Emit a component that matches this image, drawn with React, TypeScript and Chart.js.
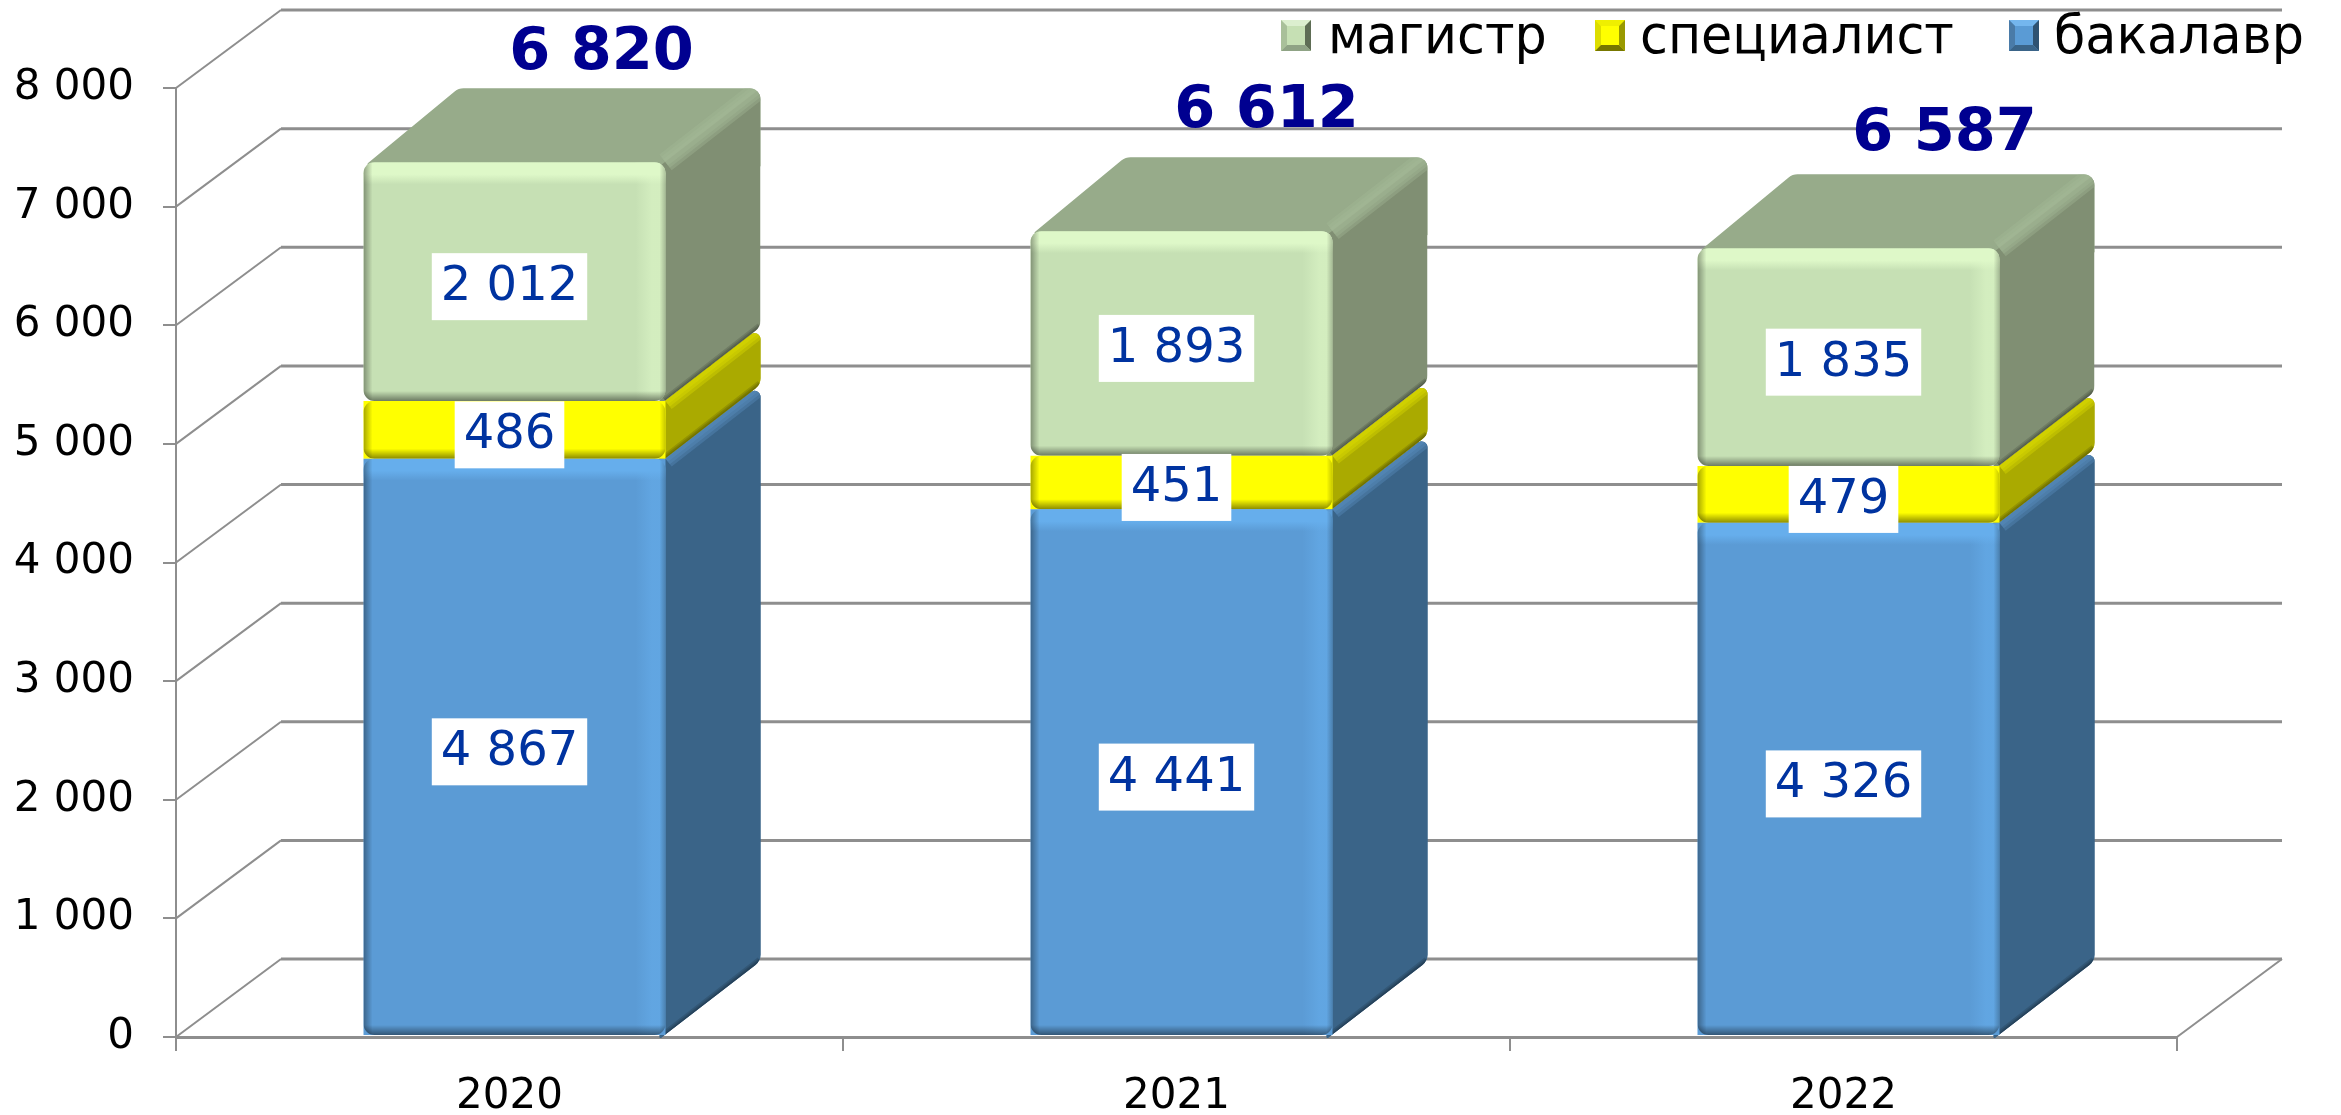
import React, { useEffect, useRef } from "react";
import { Chart, registerables } from "chart.js";

Chart.register(...registerables);

const categories = ["2020", "2021", "2022"];
const bachelor = [4867, 4441, 4326];
const specialist = [486, 451, 479];
const master = [2012, 1893, 1835];
const totals = [6820, 6612, 6587];
const seriesNames = ["бакалавр", "специалист", "магистр"];

const FONT = '"DejaVu Sans", Verdana, sans-serif';
const fmt = (v: number) => String(v).replace(/\B(?=(\d{3})+(?!\d))/g, " ");

const looks = [
  { front: "#5B9BD5", side: "#3A6488", top: "#4A7BA8", hi: "#66AEEC", sideHi: "#5A8FC0", swatch: ["#5A9BD5", "#74B6EE", "#4A7BA8", "#2F5271", "#3A6488"] },
  { front: "#FFFF00", side: "#AAAA00", top: "#DDDD00", hi: "#FFFF00", sideHi: "#DEDE00", swatch: ["#FFFF00", "#EFEF00", "#DDDD00", "#999900", "#777700"] },
  { front: "#C6E0B4", side: "#808F73", top: "#97AB8A", hi: "#DEF8C8", sideHi: "#A3B796", swatch: ["#C6E0B4", "#DCEFCF", "#A9C09A", "#5E6D55", "#8FA385"] },
];

const DEPTH_X = 95;
const DEPTH_Y = 74;
const WALL_X = 105;
const WALL_Y = 78;
const BAR_SHIFT = 5;
const BAR_LIFT = 1;
const R = 11;
const GRID = "#8E8E8E";
const totalOffsets = [
  { dx: 92, dy: 110 },
  { dx: 90, dy: 120 },
  { dx: 101, dy: 115 },
];

type P = [number, number, number];
function path(ctx: CanvasRenderingContext2D, pts: P[]) {
  ctx.beginPath();
  const n = pts.length;
  const a = pts[0];
  const b = pts[n - 1];
  ctx.moveTo((a[0] + b[0]) / 2, (a[1] + b[1]) / 2);
  for (let i = 0; i < n; i++) {
    const p = pts[i];
    const q = pts[(i + 1) % n];
    ctx.arcTo(p[0], p[1], q[0], q[1], p[2]);
  }
  ctx.closePath();
}

function softLine(ctx: CanvasRenderingContext2D, x1: number, y1: number, x2: number, y2: number, color: string, widths: number[], alpha: number) {
  ctx.save();
  ctx.strokeStyle = color;
  ctx.globalAlpha = alpha;
  ctx.lineCap = "butt";
  for (const w of widths) {
    ctx.lineWidth = w;
    ctx.beginPath();
    ctx.moveTo(x1, y1);
    ctx.lineTo(x2, y2);
    ctx.stroke();
  }
  ctx.restore();
}

const box3d = {
  id: "box3d",
  beforeDatasetsDraw(chart: any) {
    const { ctx, chartArea: a, scales } = chart;
    // back wall, side wall and floor
    ctx.save();
    ctx.strokeStyle = GRID;
    for (const t of scales.y.ticks) {
      const y = scales.y.getPixelForValue(t.value);
      ctx.lineWidth = 2;
      ctx.beginPath();
      ctx.moveTo(a.left, y);
      ctx.lineTo(a.left + WALL_X, y - WALL_Y);
      ctx.stroke();
      ctx.lineWidth = 3;
      ctx.beginPath();
      ctx.moveTo(a.left + WALL_X, y - WALL_Y);
      ctx.lineTo(a.right + WALL_X, y - WALL_Y);
      ctx.stroke();
    }
    ctx.lineWidth = 2;
    ctx.beginPath();
    ctx.moveTo(a.right, a.bottom);
    ctx.lineTo(a.right + WALL_X, a.bottom - WALL_Y);
    ctx.stroke();
    ctx.restore();

    // side faces and lid, from the bottom of the stack upwards
    const lastIndex = chart.data.datasets.length - 1;
    chart.data.datasets.forEach((_: any, di: number) => {
      const meta = chart.getDatasetMeta(di);
      meta.data.forEach((el: any) => {
        const look = looks[di];
        const r = el.x + BAR_SHIFT + el.width / 2;
        const l = el.x + BAR_SHIFT - el.width / 2;
        const t = el.y - BAR_LIFT;
        const b = el.base - BAR_LIFT;
        ctx.save();
        if (di === lastIndex) {
          // one rounded silhouette for lid and side together
          path(ctx, [
            [l + 3, t + 2, 2],
            [l + DEPTH_X, t - DEPTH_Y, 14],
            [r + DEPTH_X, t - DEPTH_Y, R],
            [r + DEPTH_X, b - DEPTH_Y, 13],
            [r - 6, b + 4, 1],
          ]);
          ctx.clip();
          ctx.fillStyle = look.top;
          ctx.fillRect(l, t - DEPTH_Y - 2, el.width + DEPTH_X + 4, DEPTH_Y + 6);
          ctx.beginPath();
          ctx.moveTo(r - 6, t + 4);
          ctx.lineTo(r + DEPTH_X, t - DEPTH_Y);
          ctx.lineTo(r + DEPTH_X, b - DEPTH_Y);
          ctx.lineTo(r - 6, b + 4);
          ctx.closePath();
        } else {
          path(ctx, [
            [r - 6, t + 4, 1],
            [r + DEPTH_X, t - DEPTH_Y, 6],
            [r + DEPTH_X, b - DEPTH_Y, 13],
            [r - 6, b + 4, 1],
          ]);
          ctx.save();
          ctx.fillStyle = look.side;
          ctx.fill();
          ctx.restore();
          ctx.clip();
          ctx.beginPath();
          ctx.rect(r - 6, t - DEPTH_Y - 2, DEPTH_X + 8, b - t + DEPTH_Y + 8);
        }
        ctx.fillStyle = look.side;
        ctx.fill();
        softLine(ctx, r, t, r + DEPTH_X, t - DEPTH_Y, look.sideHi, [20, 14, 8], 0.38);
        softLine(ctx, r, b, r + DEPTH_X, b - DEPTH_Y, "#000000", [9, 6, 3], 0.13);
        ctx.restore();
      });
    });
  },
  beforeDatasetDraw(chart: any) {
    chart.ctx.save();
    chart.ctx.translate(BAR_SHIFT, -BAR_LIFT);
  },
  afterDatasetDraw(chart: any) {
    chart.ctx.restore();
  },
  afterDatasetsDraw(chart: any) {
    const { ctx } = chart;
    // bevels on the front faces
    chart.data.datasets.forEach((_: any, di: number) => {
      chart.getDatasetMeta(di).data.forEach((el: any) => {
        const look = looks[di];
        const l = el.x + BAR_SHIFT - el.width / 2;
        const w = el.width;
        const t = el.y - BAR_LIFT;
        const h = el.base - el.y;
        ctx.save();
        ctx.beginPath();
        ctx.roundRect(l, t, w, h, R);
        ctx.clip();
        // lighter stripe at the right
        let g = ctx.createLinearGradient(l + w - 30, 0, l + w, 0);
        g.addColorStop(0, look.front);
        g.addColorStop(0.55, look.hi);
        g.addColorStop(1, look.hi);
        ctx.fillStyle = g;
        ctx.globalAlpha = 0.55;
        ctx.fillRect(l + w - 30, t, 30, h);
        ctx.globalAlpha = 1;
        // lighter band at the top
        g = ctx.createLinearGradient(0, t, 0, t + 22);
        g.addColorStop(0, look.hi);
        g.addColorStop(0.55, look.hi);
        g.addColorStop(1, look.hi + "00");
        ctx.fillStyle = g;
        ctx.fillRect(l, t, w, 22);
        // dark edges
        g = ctx.createLinearGradient(l, 0, l + 9, 0);
        g.addColorStop(0, "rgba(0,0,0,0.35)");
        g.addColorStop(1, "rgba(0,0,0,0)");
        ctx.fillStyle = g;
        ctx.fillRect(l, t, 9, h);
        g = ctx.createLinearGradient(l + w - 6, 0, l + w, 0);
        g.addColorStop(0, "rgba(0,0,0,0)");
        g.addColorStop(1, "rgba(0,0,0,0.22)");
        ctx.fillStyle = g;
        ctx.fillRect(l + w - 6, t, 6, h);
        g = ctx.createLinearGradient(0, t + h - 10, 0, t + h);
        g.addColorStop(0, "rgba(0,0,0,0)");
        g.addColorStop(1, "rgba(0,0,0,0.45)");
        ctx.fillStyle = g;
        ctx.fillRect(l, t + h - 10, w, 10);
        ctx.restore();
      });
    });

    // value labels on white boxes
    ctx.save();
    ctx.textAlign = "center";
    ctx.textBaseline = "middle";
    ctx.font = `48px ${FONT}`;
    chart.data.datasets.forEach((ds: any, di: number) => {
      chart.getDatasetMeta(di).data.forEach((el: any, i: number) => {
        const text = fmt(ds.data[i]);
        const cx = el.x;
        const cy = (el.y + el.base) / 2 + 4;
        const w = ctx.measureText(text).width + 18;
        ctx.fillStyle = "#FFFFFF";
        ctx.fillRect(cx - w / 2, cy - 33.5, w, 67);
        ctx.fillStyle = "#0033A0";
        ctx.fillText(text, cx, cy + 1);
      });
    });

    // totals above each stack
    const lastMeta = chart.getDatasetMeta(chart.data.datasets.length - 1);
    ctx.font = `bold 59px ${FONT}`;
    ctx.fillStyle = "#000090";
    lastMeta.data.forEach((el: any, i: number) => {
      ctx.fillText(fmt(totals[i]), el.x + totalOffsets[i].dx, el.y - totalOffsets[i].dy);
    });
    ctx.restore();

    // legend
    ctx.save();
    ctx.font = `54px ${FONT}`;
    ctx.textAlign = "left";
    ctx.textBaseline = "alphabetic";
    const entries = [
      { di: 2, sx: 1281, tx: 1328 },
      { di: 1, sx: 1595, tx: 1640 },
      { di: 0, sx: 2009, tx: 2054 },
    ];
    for (const e of entries) {
      const [c, top, left, right, bottom] = looks[e.di].swatch;
      const x = e.sx, y = 20, w = 30, h = 31, b = 6;
      const quad = (col: string, pts: number[][]) => {
        ctx.fillStyle = col;
        ctx.beginPath();
        pts.forEach((p, i) => (i ? ctx.lineTo(p[0], p[1]) : ctx.moveTo(p[0], p[1])));
        ctx.closePath();
        ctx.fill();
      };
      quad(c, [[x, y], [x + w, y], [x + w, y + h], [x, y + h]]);
      quad(top, [[x, y], [x + w, y], [x + w - b, y + b], [x + b, y + b]]);
      quad(left, [[x, y], [x + b, y + b], [x + b, y + h - b], [x, y + h]]);
      quad(right, [[x + w, y], [x + w, y + h], [x + w - b, y + h - b], [x + w - b, y + b]]);
      quad(bottom, [[x, y + h], [x + b, y + h - b], [x + w - b, y + h - b], [x + w, y + h]]);
      ctx.save();
      ctx.translate(e.tx, 53);
      ctx.scale(0.94, 1);
      ctx.fillStyle = "#000000";
      ctx.fillText(seriesNames[e.di], 0, 0);
      ctx.restore();
    }
    ctx.restore();
  },
};

export default function App() {
  const ref = useRef<HTMLCanvasElement | null>(null);
  useEffect(() => {
    const chart = new Chart(ref.current as HTMLCanvasElement, {
      type: "bar",
      data: {
        labels: categories,
        datasets: [bachelor, specialist, master].map((data, i) => ({
          label: seriesNames[i],
          data,
          backgroundColor: looks[i].front,
          borderWidth: 0,
          borderSkipped: false,
          borderRadius: R,
          categoryPercentage: 1,
          barPercentage: 302 / 667,
        })),
      },
      plugins: [box3d],
      options: {
        animation: false,
        responsive: false,
        maintainAspectRatio: false,
        layout: { padding: { top: 88, right: 164, left: 0, bottom: 0 } },
        plugins: { legend: { display: false }, tooltip: { enabled: false }, title: { display: false } },
        scales: {
          x: {
            stacked: true,
            afterFit: (s: any) => { s.height = 1115 - 1037; },
            grid: { offset: true, drawOnChartArea: false, color: GRID, tickLength: 14, lineWidth: 2 },
            border: { display: true, color: GRID, width: 3 },
            ticks: { color: "#000000", font: { family: FONT, size: 42 }, padding: 21, maxRotation: 0 },
          },
          y: {
            stacked: true,
            min: 0,
            max: 8000,
            afterFit: (s: any) => { s.width = 176; },
            grid: { drawOnChartArea: false, color: GRID, tickLength: 13, lineWidth: 2 },
            border: { display: true, color: GRID, width: 2 },
            ticks: { stepSize: 1000, color: "#000000", font: { family: FONT, size: 42 }, padding: 29, callback: (v: any) => fmt(Number(v)) },
          },
        },
      },
    } as any);
    return () => chart.destroy();
  }, []);
  return (
    <canvas
      ref={ref}
      width={2341}
      height={1115}
      style={{ position: "absolute", left: 0, top: 0, display: "block", width: 2341, height: 1115 }}
    />
  );
}
